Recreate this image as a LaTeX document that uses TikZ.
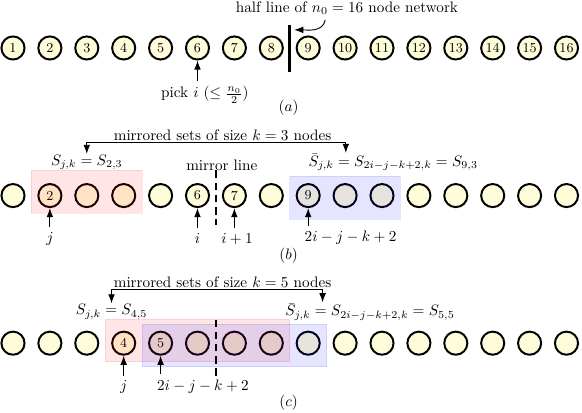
\documentclass[tikz,border=0pt]{standalone}
\usepackage{amsmath, amssymb}
\usepackage[dvipsnames]{xcolor}
\usepackage{tikz}
\usetikzlibrary{positioning}
\usetikzlibrary{calc}
\usetikzlibrary{arrows.meta}
\colorlet{vtxfill}{yellow!15}
\tikzset{>={Latex[length=6pt,width=4.4pt]}}

\begin{document}
\begin{tikzpicture}[x=0.853cm, y=0.853cm,
    vtx/.style={circle, draw, line width=1.3pt, fill=vtxfill, minimum size=15.2pt, inner sep=0pt, font=\small},
    setA/.style={draw=red, fill=red, opacity=0.1},
    setB/.style={draw=blue, fill=blue, opacity=0.1},
    mirror/.style={line width=1.3pt, dash pattern=on 5pt off 3pt},
    link/.style={->, line width=0.6pt},
    setlbl/.style={inner sep=0.5pt}]
  \useasboundingbox (-0.352,-9.89) rectangle (15.42,1.30);

  % (a) whole network
  \foreach \n in {1,...,16}
    \node[vtx] (a\n) at (\n-1,0) {\n};
  \draw[line width=1.8pt] (7.5,0.62) -- (7.5,-0.65);
  \coordinate (htip) at (7.62,0.49);
  \node (half) at (9.05,1.08) {half line of $n_0=16$ node network};
  \draw[link] ($(half.south)+(-0.59,0)$) to[out=-100,in=0] (htip);
  \node (pick) at (5.2,-1.27) {pick $i$ ($\leq \frac{n_0}{2}$)};
  \draw[link] (a6 |- pick.north) -- (a6.south);
  \node (capa) at (7.47,-1.62) {$(a)$};

  % (b) sets of size 3
  \foreach \n/\t in {1/{},2/2,3/{},4/{},5/{},6/6,7/7,8/{},9/9,10/{},11/{},12/{},13/{},14/{},15/{},16/{}}
    \node[vtx] (b\n) at (\n-1,-4) {\t};
  \path[setA] (0.5,-3.32) rectangle (3.5,-4.48);
  \path[setB] (7.5,-3.48) rectangle (10.5,-4.64);
  \draw[mirror] (5.5,-3.32) -- (5.5,-4.81);
  \node (mlbl) at (5.66,-3.18) {mirror line};
  \node[inner sep=1pt] (mset3) at (5.68,-2.36) {mirrored sets of size $k=3$ nodes};
  \node[setlbl] (lS3) at (2,-3.1) {$S_{j,k}=S_{2,3}$};
  \node[setlbl, anchor=west] (rS3) at (7.98,-3.1) {$\bar{S}_{j,k}=S_{2i-j-k+2,k}=S_{9,3}$};
  \draw[<->, line width=0.6pt] (lS3.north) |- (mset3.south) -| ($(rS3.north west)+(1.04,0)$);
  \node (lj3) at (1,-5.17) {$j$};
  \node (li3) at (5,-5.17) {$i$};
  \node (li13) at (6.07,-5.17) {$i+1$};
  \node[anchor=west] (lm3) at (7.76,-5.14) {$2i-j-k+2$};
  \draw[link] (lj3.north) -- (b2.south);
  \draw[link] (li3.north) -- (b6.south);
  \draw[link] (b7 |- li13.north) -- (b7.south);
  \draw[link] (b9 |- lm3.north) -- (b9.south);
  \node (capb) at (7.47,-5.63) {$(b)$};

  % (c) sets of size 5
  \foreach \n/\t in {1/{},2/{},3/{},4/4,5/5,6/{},7/{},8/{},9/{},10/{},11/{},12/{},13/{},14/{},15/{},16/{}}
    \node[vtx] (c\n) at (\n-1,-8) {\t};
  \path[setA] (2.5,-7.34) rectangle (7.5,-8.5);
  \path[setB] (3.5,-7.48) rectangle (8.5,-8.64);
  \draw[mirror] (5.5,-7.36) -- (5.5,-9.0);
  \node[inner sep=1pt] (mset5) at (5.68,-6.36) {mirrored sets of size $k=5$ nodes};
  \node[setlbl] (lS5) at (2.67,-7.15) {$S_{j,k}=S_{4,5}$};
  \node[setlbl, anchor=west] (rS5) at (7.35,-7.15) {$\bar{S}_{j,k}=S_{2i-j-k+2,k}=S_{5,5}$};
  \draw[<->, line width=0.6pt] (lS5.north) |- (mset5.south) -| ($(rS5.north west)+(1.04,0)$);
  \node (lj5) at (3,-9.2) {$j$};
  \node[anchor=west] (lm5) at (3.76,-9.17) {$2i-j-k+2$};
  \draw[link] (lj5.north) -- (c4.south);
  \draw[link] (c5 |- lm5.north) -- (c5.south);
  \node (capc) at (7.47,-9.61) {$(c)$};
\end{tikzpicture}
\end{document}
